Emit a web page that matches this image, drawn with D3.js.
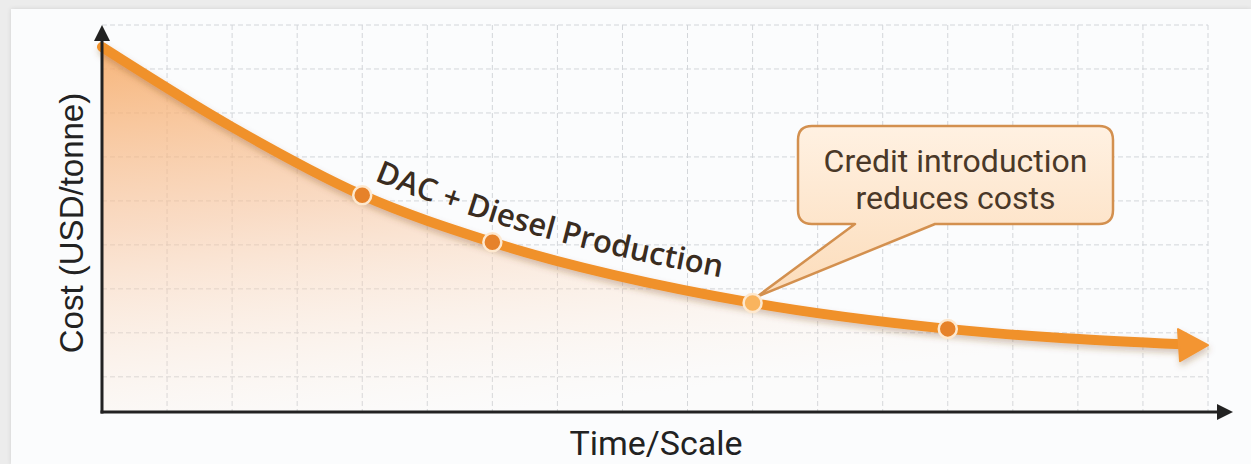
<!DOCTYPE html>
<html>
<head>
<meta charset="utf-8">
<script src="https://cdn.jsdelivr.net/npm/d3@7"></script>
<style>
  body { margin: 0; background: #ececec; }
  #chart { width: 1251px; height: 464px; }
</style>
</head>
<body>
<div id="chart"></div>
<script>
// time/scale steps along x, cost in grid units along y
const steps = [0, 2, 4, 6, 10, 13, 17];
const costs = [8.3, 6.48, 4.93, 3.86, 2.48, 1.89, 1.52];
const markerSteps = [4, 6, 10, 13];
const markerCosts = [4.93, 3.86, 2.48, 1.89];
const creditStep = 10;
const yGrid = [0.8, 1.8, 2.8, 3.8, 4.8, 5.8, 6.8, 7.8, 8.8];
const seriesLabel = "DAC + Diesel Production";
const calloutLines = ["Credit introduction", "reduces costs"];
const xTitle = "Time/Scale";
const yTitle = "Cost (USD/tonne)";

const width = 1251;
const height = 464;
const margin = { top: 25, right: 43, bottom: 52, left: 102 };

const data = steps.map((s, i) => ({ s: s, c: costs[i] }));
const markers = markerSteps.map((s, i) => ({ s: s, c: markerCosts[i] }));

const svg = d3.select("#chart").append("svg")
    .attr("width", width)
    .attr("height", height);

const x = d3.scaleLinear().domain([0, 17]).range([margin.left, 1208]);
const y = d3.scaleLinear().domain([0, 8.8]).range([height - margin.bottom, margin.top]);

const defs = svg.append("defs");

const fillGrad = defs.append("linearGradient").attr("id", "areaFill")
    .attr("x1", 0).attr("y1", 0).attr("x2", 0.35).attr("y2", 1);
fillGrad.append("stop").attr("offset", "0%").attr("stop-color", "#f6a862").attr("stop-opacity", 0.85);
fillGrad.append("stop").attr("offset", "45%").attr("stop-color", "#f8c197").attr("stop-opacity", 0.55);
fillGrad.append("stop").attr("offset", "100%").attr("stop-color", "#fde8d6").attr("stop-opacity", 0.05);

const boxGrad = defs.append("linearGradient").attr("id", "boxFill")
    .attr("x1", 0).attr("y1", 0).attr("x2", 0).attr("y2", 1);
boxGrad.append("stop").attr("offset", "0%").attr("stop-color", "#fff1e2");
boxGrad.append("stop").attr("offset", "100%").attr("stop-color", "#fcdcba");

const shadow = defs.append("filter").attr("id", "shadow")
    .attr("x", "-10%").attr("y", "-50%").attr("width", "120%").attr("height", "200%");
shadow.append("feDropShadow").attr("dx", 1).attr("dy", 4).attr("stdDeviation", 3)
    .attr("flood-color", "#7a4a20").attr("flood-opacity", 0.3);

const cardShadow = defs.append("filter").attr("id", "cardShadow");
cardShadow.append("feDropShadow").attr("dx", 0).attr("dy", 0).attr("stdDeviation", 2)
    .attr("flood-color", "#000").attr("flood-opacity", 0.12);

// card
svg.append("rect")
    .attr("x", 11).attr("y", 9)
    .attr("width", width - 11).attr("height", height - 9)
    .attr("fill", "#fbfcfd")
    .attr("filter", "url(#cardShadow)");

// grid
const grid = svg.append("g")
    .attr("stroke", "#d3d6da")
    .attr("stroke-width", 1)
    .attr("stroke-dasharray", "5,3");

grid.selectAll(".v")
    .data(x.ticks(17).filter(d => d > 0))
    .join("line")
    .attr("x1", d => x(d)).attr("x2", d => x(d))
    .attr("y1", y(8.8)).attr("y2", y(0));

grid.selectAll(".h")
    .data(yGrid)
    .join("line")
    .attr("x1", x(0)).attr("x2", x(17))
    .attr("y1", d => y(d)).attr("y2", d => y(d));

// area under curve
const curve = d3.curveMonotoneX;
const area = d3.area()
    .x(d => x(d.s))
    .y0(y(0))
    .y1(d => y(d.c))
    .curve(curve);

svg.append("path")
    .datum(data)
    .attr("d", area)
    .attr("fill", "url(#areaFill)");

// curve line with arrow
const line = d3.line()
    .x(d => x(d.s))
    .y(d => y(d.c))
    .curve(curve);

const last = data[data.length - 1];
const headLen = 30;
const lineData = data.slice(0, -1).concat([{ s: x.invert(x(last.s) - headLen + 4), c: last.c + 0.02 }]);

const curveG = svg.append("g").attr("filter", "url(#shadow)");
curveG.append("path")
    .datum(lineData)
    .attr("d", line)
    .attr("fill", "none")
    .attr("stroke", "#f0912c")
    .attr("stroke-width", 10)
    .attr("stroke-linecap", "round");

const tipX = x(last.s), tipY = y(last.c);
curveG.append("path")
    .attr("d", `M${tipX},${tipY} L${tipX - headLen},${tipY - 16} L${tipX - headLen + 2},${tipY + 16} Z`)
    .attr("fill", "#f39532")
    .attr("stroke", "#f39532")
    .attr("stroke-linejoin", "round")
    .attr("stroke-width", 2);

// series label along curve
const labelLine = d3.line()
    .x(d => x(d.s))
    .y(d => y(d.c) - 20)
    .curve(curve);

const labelPath = defs.append("path")
    .attr("id", "labelPath")
    .datum(data)
    .attr("d", labelLine);

// find path length at the label start
const pNode = labelPath.node();
const total = pNode.getTotalLength();
let lo = 0, hi = total;
for (let i = 0; i < 30; i++) {
    const mid = (lo + hi) / 2;
    if (pNode.getPointAtLength(mid).x < 374) lo = mid; else hi = mid;
}

svg.append("text")
    .attr("font-family", "'Open Sans', 'Noto Sans', sans-serif")
    .attr("font-weight", 600)
    .attr("font-size", 31)
    .attr("fill", "#3a2c20")
    .append("textPath")
    .attr("href", "#labelPath")
    .attr("startOffset", lo)
    .text(seriesLabel);

// callout
const bx = 798, by = 126, bw = 315, bh = 98, r = 14;
const tail = { a: 855, b: 935, tx: x(creditStep) + 4, ty: y(2.48) - 6 };
const calloutPath = [
    `M${bx + r},${by}`,
    `H${bx + bw - r}`, `Q${bx + bw},${by} ${bx + bw},${by + r}`,
    `V${by + bh - r}`, `Q${bx + bw},${by + bh} ${bx + bw - r},${by + bh}`,
    `H${tail.b}`, `L${tail.tx},${tail.ty}`, `L${tail.a},${by + bh}`,
    `H${bx + r}`, `Q${bx},${by + bh} ${bx},${by + bh - r}`,
    `V${by + r}`, `Q${bx},${by} ${bx + r},${by}`, "Z"
].join(" ");

svg.append("path")
    .attr("d", calloutPath)
    .attr("fill", "url(#boxFill)")
    .attr("stroke", "#d3904f")
    .attr("stroke-width", 2.5)
    .attr("stroke-linejoin", "round");

svg.append("text")
    .attr("x", bx + bw / 2)
    .attr("y", by + 46)
    .attr("text-anchor", "middle")
    .attr("font-family", "Roboto, sans-serif")
    .attr("font-size", 32)
    .attr("fill", "#4a3828")
    .selectAll("tspan")
    .data(calloutLines)
    .join("tspan")
    .attr("x", bx + bw / 2)
    .attr("dy", (d, i) => i === 0 ? 0 : 37)
    .text(d => d);

// markers
svg.append("g")
    .selectAll("circle")
    .data(markers)
    .join("circle")
    .attr("cx", d => x(d.s))
    .attr("cy", d => y(d.c))
    .attr("r", 9)
    .attr("fill", d => d.s === creditStep ? "#f9b45e" : "#e6822a")
    .attr("stroke", "#fde8cf")
    .attr("stroke-width", 2.5);

// axes
const axisColor = "#222";
const x0 = x(0), yBase = y(0);
svg.append("line")
    .attr("x1", x0).attr("x2", x0)
    .attr("y1", yBase + 1.5).attr("y2", margin.top + 12)
    .attr("stroke", axisColor).attr("stroke-width", 3);
svg.append("path")
    .attr("d", `M${x0},${margin.top} L${x0 - 8},${margin.top + 16} L${x0 + 8},${margin.top + 16} Z`)
    .attr("fill", axisColor);

const xEnd = 1233;
svg.append("line")
    .attr("x1", x0 - 1.5).attr("x2", xEnd - 12)
    .attr("y1", yBase).attr("y2", yBase)
    .attr("stroke", axisColor).attr("stroke-width", 3);
svg.append("path")
    .attr("d", `M${xEnd},${yBase} L${xEnd - 16},${yBase - 8} L${xEnd - 16},${yBase + 8} Z`)
    .attr("fill", axisColor);

// axis titles
svg.append("text")
    .attr("x", 656)
    .attr("y", 455)
    .attr("text-anchor", "middle")
    .attr("font-family", "Roboto, sans-serif")
    .attr("font-size", 34)
    .attr("fill", "#222")
    .text(xTitle);

svg.append("text")
    .attr("transform", "translate(83,223) rotate(-90)")
    .attr("text-anchor", "middle")
    .attr("font-family", "'Liberation Sans', Arial, sans-serif")
    .attr("font-size", 33)
    .attr("fill", "#222")
    .text(yTitle);
</script>
</body>
</html>
